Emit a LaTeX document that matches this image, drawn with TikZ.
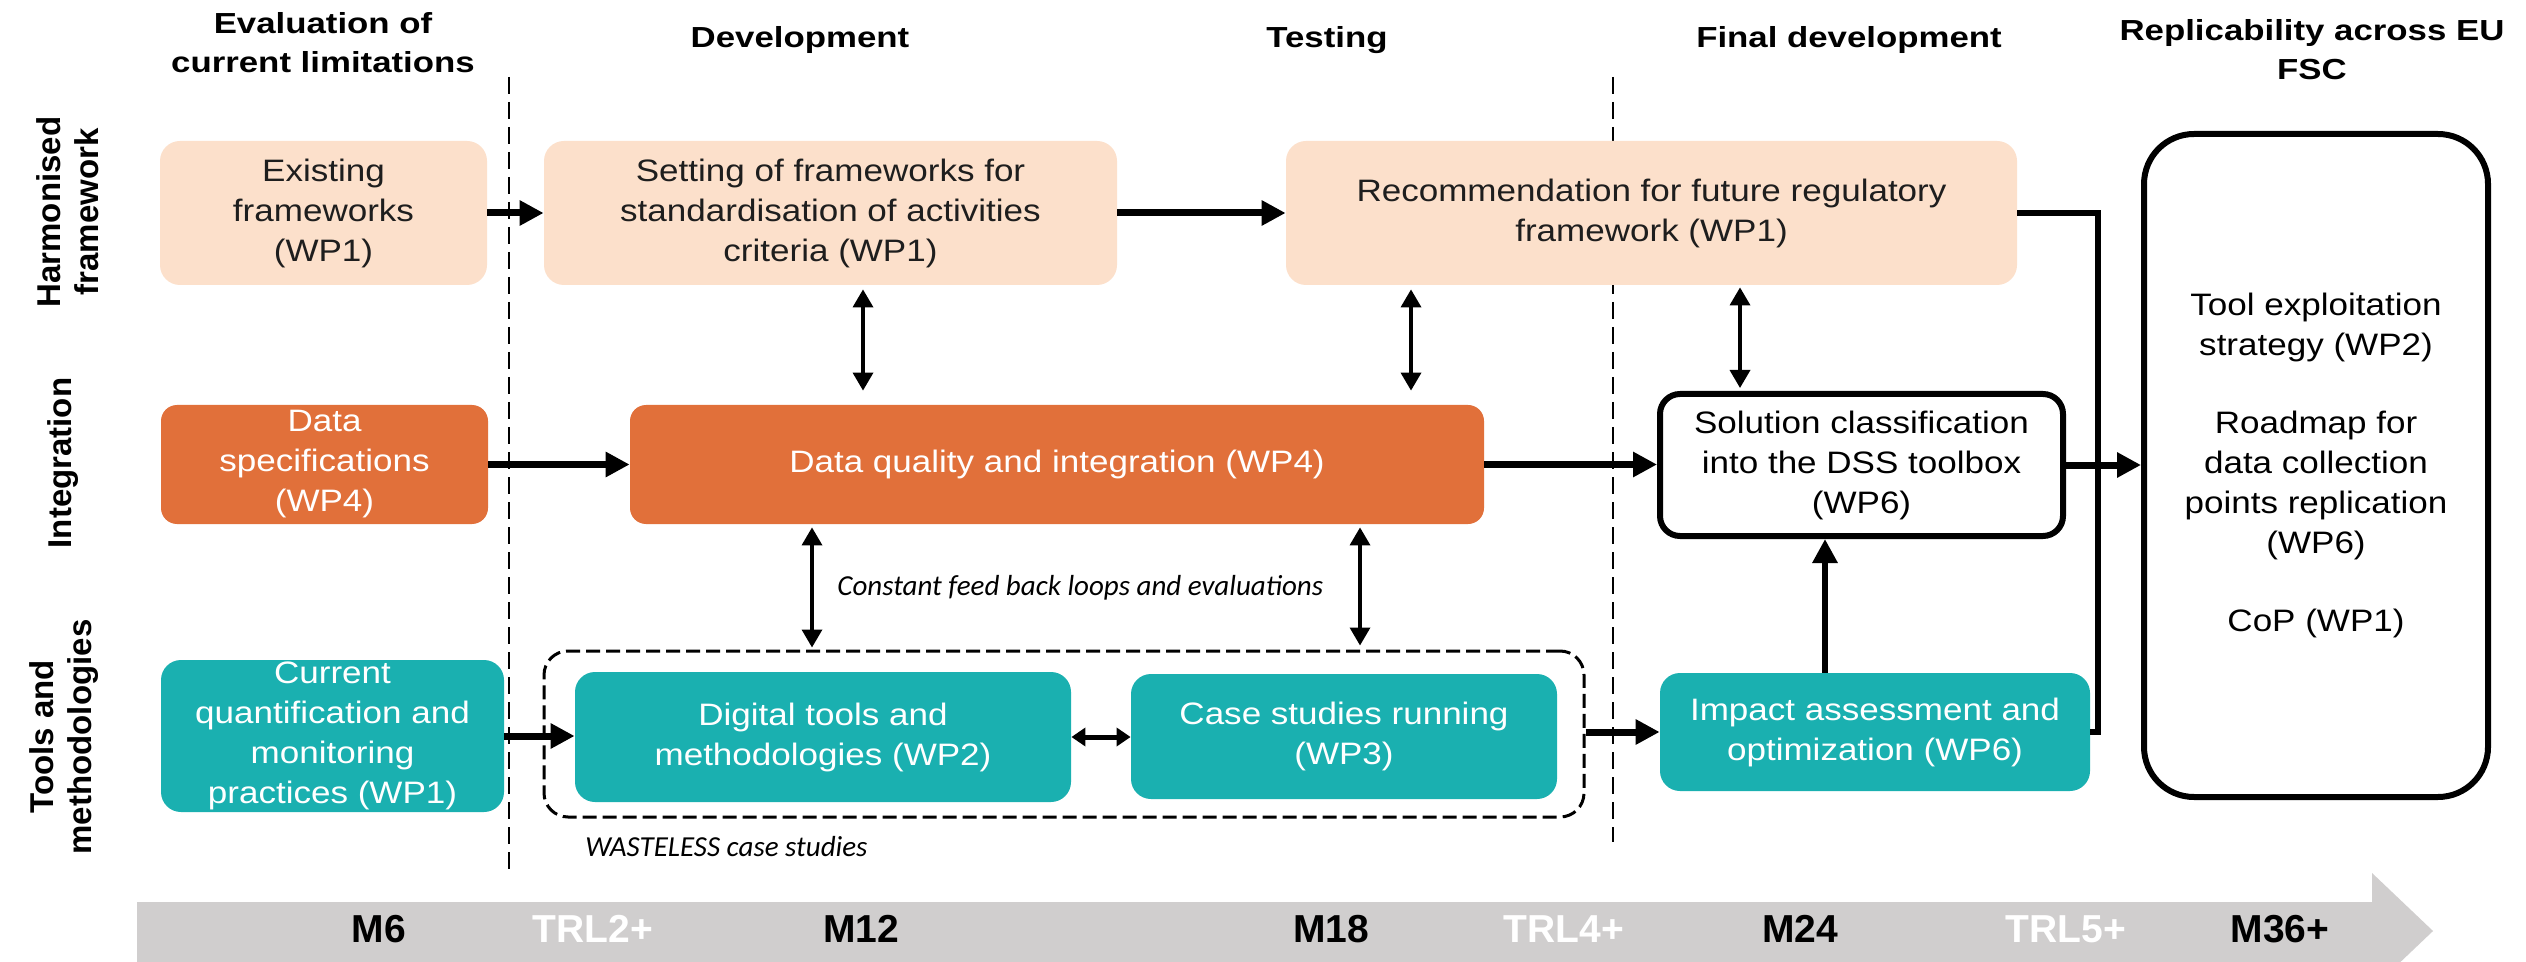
\documentclass[tikz,border=0pt]{standalone}
\usepackage{fontspec}
\setmainfont{Liberation Sans}
\newfontfamily\bodyf{Liberation Sans}[FakeStretch=1.13]
\newfontfamily\headf{Liberation Sans}[FakeStretch=1.2]
\newfontfamily\notef{Carlito}
\usetikzlibrary{arrows.meta,calc}
\definecolor{peach}{RGB}{252,224,203}
\definecolor{rust}{RGB}{225,112,58}
\definecolor{teal2}{RGB}{26,176,176}
\definecolor{bandgray}{RGB}{208,206,206}
\definecolor{txt}{RGB}{30,30,30}
\begin{document}
\begin{tikzpicture}[x=0.5pt,y=-0.5pt,
 boxtext/.style={font=\bodyf\fontsize{15.5pt}{20pt}\selectfont, align=center, inner sep=0pt},
 pbox/.style={boxtext, fill=peach, text=txt, rounded corners=10pt},
 obox/.style={boxtext, fill=rust, text=white, rounded corners=8pt},
 tbox/.style={boxtext, fill=teal2, text=white, rounded corners=10pt},
 wbox/.style={boxtext, draw=black, line width=3pt, fill=white, text=black, rounded corners=10pt},
 head/.style={font=\headf\bfseries\fontsize{14.5pt}{19.5pt}\selectfont, align=center, inner sep=0pt},
 rowlab/.style={font=\bfseries\fontsize{16.5pt}{19pt}\selectfont, align=center, rotate=90, inner sep=0pt},
 note/.style={font=\notef\itshape\fontsize{14.5pt}{16pt}\selectfont, anchor=west, inner sep=0pt},
 tl/.style={font=\bfseries\fontsize{19.5pt}{20pt}\selectfont, inner sep=0pt},
 flow/.style={line width=3.5pt, -{Triangle[length=12pt,width=12pt]}},
 dbl/.style={line width=1.75pt, {Triangle[length=9pt,width=10pt]}-{Triangle[length=9pt,width=10pt]}},
 sdbl/.style={line width=2.5pt, {Triangle[length=7pt,width=9pt]}-{Triangle[length=7pt,width=9pt]}},
 phase/.style={dash pattern=on 8.5pt off 4pt, line width=0.8pt},
 grpbox/.style={draw=black, dash pattern=on 7pt off 3pt, line width=1.5pt, rounded corners=12pt, inner sep=0pt}
]
\clip (0,0) rectangle (2526,962);
\fill[white] (0,0) rectangle (2526,962);

% headers
\node[head] (h1) at (323,43) {Evaluation of\\current limitations};
\node[head, anchor=base] (h2) at (800,48) {Development};
\node[head, anchor=base] (h3) at (1327,48) {Testing};
\node[head, anchor=base] (h4) at (1849,48) {Final development};
\node[head] (h5) at (2312,50) {Replicability across EU\\FSC};

% row labels
\node[rowlab] (r1) at (68,212) {Harmonised\\framework};
\node[rowlab] (r2) at (63,463) {Integration};
\node[rowlab] (r3) at (64,737) {Tools and\\methodologies};

% phase separators
\coordinate (d1t) at (509,77);
\coordinate (d1b) at (509,876);
\coordinate (d2t) at (1613,77);
\coordinate (d2b) at (1613,842);
\draw[phase] (d1t) -- (d1b);
\draw[phase] (d2t) -- (d2b);

% timeline
\fill[bandgray] (137,902) -- (2372,902) -- (2372,873) -- (2433,931) -- (2372,989) -- (2372,962) -- (137,962) -- cycle;
\node[tl] (m6) at (379,929) {M6};
\node[tl, text=white] (t2) at (593,929) {TRL2+};
\node[tl] (m12) at (861,929) {M12};
\node[tl] (m18) at (1331,929) {M18};
\node[tl, text=white] (t4) at (1564,929) {TRL4+};
\node[tl] (m24) at (1800,929) {M24};
\node[tl, text=white] (t5) at (2066,929) {TRL5+};
\node[tl] (m36) at (2280,929) {M36+};

% row 1
\node[pbox, minimum width=163.5pt, minimum height=72pt] (exist) at (323.5,213) {Existing\\frameworks\\(WP1)};
\node[pbox, minimum width=286.5pt, minimum height=72pt] (set) at (830.5,213) {Setting of frameworks for\\standardisation of activities\\criteria (WP1)};
\node[pbox, minimum width=365.5pt, minimum height=72pt] (rec) at (1651.5,213) {Recommendation for future regulatory\\framework (WP1)};

% row 2
\node[obox, minimum width=163.5pt, minimum height=59.5pt] (dspec) at (324.5,464.5) {Data\\specifications\\(WP4)};
\node[obox, minimum width=427pt, minimum height=59.5pt] (dq) at (1057,464.5) {Data quality and integration (WP4)};
\node[wbox, minimum width=201.5pt, minimum height=71pt] (sol) at (1861.5,465) {Solution classification\\into the DSS toolbox\\(WP6)};
\node[wbox, rounded corners=25pt, minimum width=172pt, minimum height=331.5pt] (big) at (2316,465.5) {Tool exploitation\\strategy (WP2)\\[19pt]Roadmap for\\data collection\\points replication\\(WP6)\\[19pt]CoP (WP1)};

% row 3
\node[tbox, minimum width=171.5pt, minimum height=76pt] (cur) at (332.5,736) {Current\\quantification and\\monitoring\\practices (WP1)};
\node[grpbox, minimum width=520pt, minimum height=83pt] (grp) at (1064,734) {};
\node[tbox, minimum width=248pt, minimum height=65pt] (dig) at (823,737) {Digital tools and\\methodologies (WP2)};
\node[tbox, minimum width=213pt, minimum height=62.5pt] (case) at (1344,736.5) {Case studies running\\(WP3)};
\node[tbox, minimum width=215pt, minimum height=59pt] (imp) at (1875,732) {Impact assessment and\\optimization (WP6)};

% notes
\node[note] (fb) at (837,588) {Constant feed back loops and evaluations};
\node[note] (wl) at (585,847) {WASTELESS case studies};

% flows
\draw[flow] (exist) -- (set);
\draw[flow] (set) -- (rec);
\draw[flow] (dspec) -- (dq);
\draw[flow] (dq.east) -- (sol.west |- dq.east);
\draw[flow] (cur.east) -- (dig.west |- cur.east);
\draw[flow] (grp.east |- imp.west) -- (imp.west);
\draw[sdbl] (dig.east) -- (case.west |- dig.east);
\coordinate (vx) at (1825,0);
\draw[flow, line width=3pt] (imp.north -| vx) -- (sol.south -| vx);

% bus to final box
\coordinate (bus) at (2098,0);
\draw[line width=3pt] (rec.east) -- (rec.east -| bus) -- (imp.east -| bus) -- (imp.east);
\draw[flow] (sol.east) -- (big.west |- sol.east);

% vertical double arrows
\coordinate (a1) at (863,0);
\coordinate (a2) at (1411,0);
\coordinate (a3) at (1740,0);
\coordinate (a4) at (812,0);
\coordinate (a5) at (1360,0);
\draw[dbl, shorten <=2pt, shorten >=7pt] (set.south -| a1) -- (dq.north -| a1);
\draw[dbl, shorten <=2pt, shorten >=7pt] (rec.south -| a2) -- (dq.north -| a2);
\draw[dbl, shorten <=1pt, shorten >=1.5pt] (rec.south -| a3) -- (sol.north -| a3);
\draw[dbl, shorten <=1.5pt, shorten >=1pt] (dq.south -| a4) -- (grp.north -| a4);
\draw[dbl, shorten <=1.5pt, shorten >=2pt] (dq.south -| a5) -- (grp.north -| a5);
\end{tikzpicture}
\end{document}
